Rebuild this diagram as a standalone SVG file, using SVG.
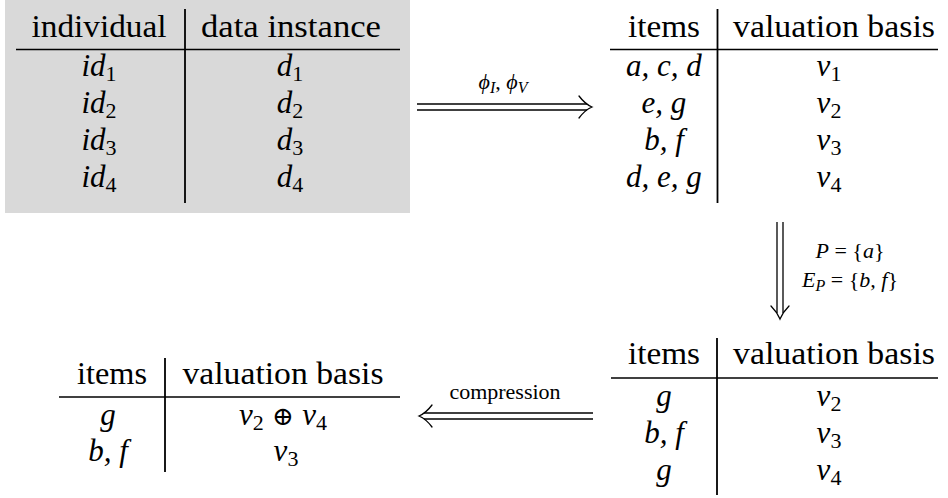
<svg xmlns="http://www.w3.org/2000/svg" width="948" height="498" viewBox="0 0 948 498">
<style>
  .t { font-family: "Liberation Serif", "Times New Roman", Times, serif; fill: #000; }
  .h { font-size: 31px; font-style: normal; }
  .m { font-size: 31px; font-style: italic; }
  .up { font-style: normal; }
  .sub { font-size: 22px; font-style: normal; }
  .isub { font-size: 16px; font-style: italic; }
  .lbl { font-size: 22px; font-style: normal; }
  .rule { stroke: #000; stroke-width: 1.5; fill: none; }
  .vrule { stroke: #000; stroke-width: 1.8; fill: none; }
  .arr { stroke: #000; stroke-width: 1.3; fill: none; }
  .head { stroke: #000; stroke-width: 1.3; fill: none; stroke-linecap: round; }
</style>

<g id="table-individuals">
  <rect x="5" y="0" width="405" height="213" fill="#d9d9d9"/>
  <text class="t h" font-family="Liberation Serif" x="99" y="37" text-anchor="middle" textLength="135" lengthAdjust="spacingAndGlyphs">individual</text>
  <text class="t h" font-family="Liberation Serif" x="291" y="37" text-anchor="middle" textLength="180" lengthAdjust="spacingAndGlyphs">data instance</text>
  <line class="rule" x1="16" y1="49.5" x2="400" y2="49.5"/>
  <line class="vrule" x1="185" y1="9" x2="185" y2="203"/>
  <text class="t m" x="99" y="76" text-anchor="middle">id<tspan class="sub" dy="5">1</tspan></text>
  <text class="t m" x="99" y="113" text-anchor="middle">id<tspan class="sub" dy="5">2</tspan></text>
  <text class="t m" x="99" y="150" text-anchor="middle">id<tspan class="sub" dy="5">3</tspan></text>
  <text class="t m" x="99" y="187" text-anchor="middle">id<tspan class="sub" dy="5">4</tspan></text>
  <text class="t m" x="290" y="76" text-anchor="middle">d<tspan class="sub" dy="5">1</tspan></text>
  <text class="t m" x="290" y="113" text-anchor="middle">d<tspan class="sub" dy="5">2</tspan></text>
  <text class="t m" x="290" y="150" text-anchor="middle">d<tspan class="sub" dy="5">3</tspan></text>
  <text class="t m" x="290" y="187" text-anchor="middle">d<tspan class="sub" dy="5">4</tspan></text>
</g>

<g id="table-items">
  <text class="t h" x="664" y="37" text-anchor="middle" textLength="72" lengthAdjust="spacingAndGlyphs">items</text>
  <text class="t h" x="834" y="37" text-anchor="middle" textLength="202" lengthAdjust="spacingAndGlyphs">valuation basis</text>
  <line class="rule" x1="610" y1="49.5" x2="938" y2="49.5"/>
  <line class="vrule" x1="717.5" y1="9" x2="717.5" y2="203"/>
  <text class="t m" x="664" y="76" text-anchor="middle">a, c, d</text>
  <text class="t m" x="664" y="113" text-anchor="middle">e, g</text>
  <text class="t m" x="664" y="150" text-anchor="middle">b, f</text>
  <text class="t m" x="664" y="187" text-anchor="middle">d, e, g</text>
  <text class="t m" x="829" y="76" text-anchor="middle">v<tspan class="sub" dy="5">1</tspan></text>
  <text class="t m" x="829" y="113" text-anchor="middle">v<tspan class="sub" dy="5">2</tspan></text>
  <text class="t m" x="829" y="150" text-anchor="middle">v<tspan class="sub" dy="5">3</tspan></text>
  <text class="t m" x="829" y="187" text-anchor="middle">v<tspan class="sub" dy="5">4</tspan></text>
</g>

<g id="table-filtered">
  <text class="t h" x="664" y="364" text-anchor="middle" textLength="72" lengthAdjust="spacingAndGlyphs">items</text>
  <text class="t h" x="834" y="364" text-anchor="middle" textLength="202" lengthAdjust="spacingAndGlyphs">valuation basis</text>
  <line class="rule" x1="611" y1="378" x2="938" y2="378"/>
  <line class="vrule" x1="717" y1="338" x2="717" y2="495"/>
  <text class="t m" x="664" y="406" text-anchor="middle">g</text>
  <text class="t m" x="664" y="443" text-anchor="middle">b, f</text>
  <text class="t m" x="664" y="480" text-anchor="middle">g</text>
  <text class="t m" x="829" y="406" text-anchor="middle">v<tspan class="sub" dy="5">2</tspan></text>
  <text class="t m" x="829" y="443" text-anchor="middle">v<tspan class="sub" dy="5">3</tspan></text>
  <text class="t m" x="829" y="480" text-anchor="middle">v<tspan class="sub" dy="5">4</tspan></text>
</g>

<g id="table-compressed">
  <text class="t h" x="112" y="384" text-anchor="middle" textLength="70" lengthAdjust="spacingAndGlyphs">items</text>
  <text class="t h" x="283" y="384" text-anchor="middle" textLength="201" lengthAdjust="spacingAndGlyphs">valuation basis</text>
  <line class="rule" x1="59" y1="397" x2="400" y2="397"/>
  <line class="vrule" x1="165" y1="358" x2="165" y2="472"/>
  <text class="t m" x="108" y="425" text-anchor="middle">g</text>
  <text class="t m" x="108" y="461" text-anchor="middle">b, f</text>
  <text class="t m" x="283" y="425" text-anchor="middle">v<tspan class="sub" dy="5">2</tspan><tspan class="up" dy="-5" font-family="DejaVu Serif, serif" font-size="26"> ⊕ </tspan>v<tspan class="sub" dy="5">4</tspan></text>
  <text class="t m" x="286" y="461" text-anchor="middle">v<tspan class="sub" dy="5">3</tspan></text>
</g>

<g id="connectors">
  <g id="arrow-phi">
    <line class="arr" x1="417" y1="104" x2="587" y2="104"/>
    <line class="arr" x1="417" y1="110" x2="587" y2="110"/>
    <path class="head" d="M579,96 Q585,104 592,107 Q585,110 579,118"/>
    <text class="t lbl" x="503" y="89" text-anchor="middle"><tspan font-style="italic">ϕ</tspan><tspan class="isub" dy="4">I</tspan><tspan dy="-4">, </tspan><tspan font-style="italic">ϕ</tspan><tspan class="isub" dy="4">V</tspan></text>
  </g>
  <g id="arrow-filter">
    <line class="arr" x1="777" y1="222" x2="777" y2="313"/>
    <line class="arr" x1="783" y1="222" x2="783" y2="313"/>
    <path class="head" d="M771,306 Q777,312 780,319 Q783,312 789,306"/>
    <text class="t lbl" x="850" y="258" text-anchor="middle"><tspan font-style="italic">P</tspan> = {<tspan font-style="italic">a</tspan>}</text>
    <text class="t lbl" x="850" y="287" text-anchor="middle"><tspan font-style="italic">E</tspan><tspan class="isub" dy="4">P</tspan><tspan dy="-4"> = {</tspan><tspan font-style="italic">b, f</tspan>}</text>
  </g>
  <g id="arrow-compression">
    <line class="arr" x1="424" y1="413" x2="593" y2="413"/>
    <line class="arr" x1="424" y1="419" x2="593" y2="419"/>
    <path class="head" d="M432,405 Q426,413 419,416 Q426,419 432,427"/>
    <text class="t lbl" x="505" y="399" text-anchor="middle">compression</text>
  </g>
</g>
</svg>
